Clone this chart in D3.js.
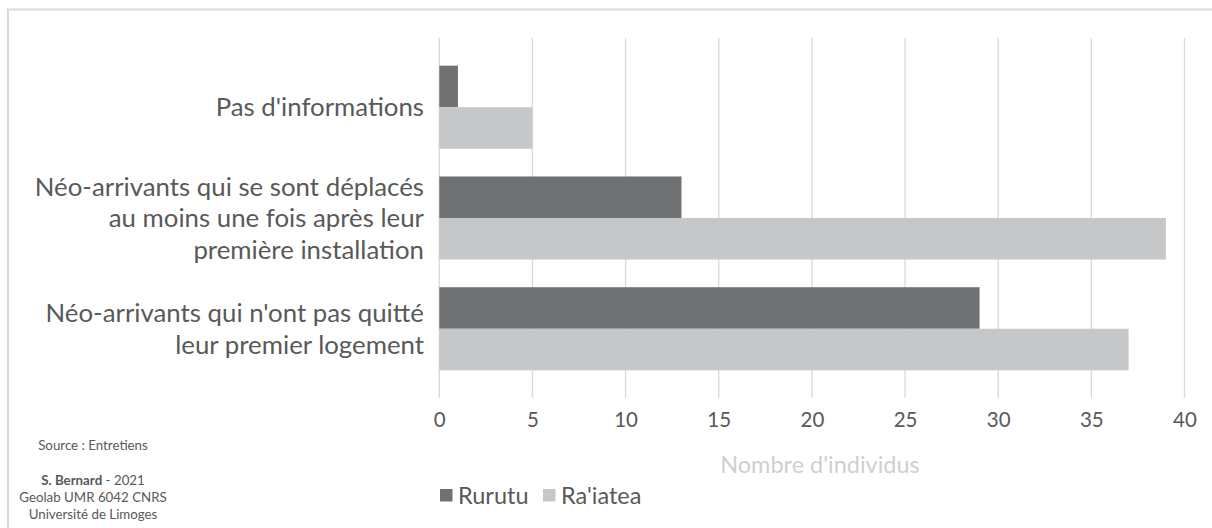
<!DOCTYPE html>
<html>
<head>
<meta charset="utf-8">
<script src="https://cdn.jsdelivr.net/npm/d3@7"></script>
<style>
  html, body { margin: 0; padding: 0; background: #fff; }
  svg { display: block; font-family: Lato, "Open Sans", sans-serif; }
</style>
</head>
<body>
<svg id="chart" width="1212" height="528"></svg>
<script>
// ---- data ----
const categories = [
  "Pas d'informations",
  "Néo-arrivants qui se sont déplacés\nau moins une fois après leur\npremière installation",
  "Néo-arrivants qui n'ont pas quitté\nleur premier logement"
];
const seriesNames = ["Rurutu", "Ra'iatea"];
const rurutuValues = [1, 13, 29];
const raiateaValues = [5, 39, 37];
const xTicks = [0, 5, 10, 15, 20, 25, 30, 35, 40];
const axisTitle = "Nombre d'individus";
const sourceLines = ["Source : Entretiens"];
const creditLines = ["Geolab UMR 6042 CNRS", "Université de Limoges"];

const seriesColors = ["#707173", "#c6c7c9"];
const textColor = "#595959";
const gridColor = "#d9d9d9";

const svg = d3.select("#chart");

// outer frame (only top/left visible)
svg.append("rect")
  .attr("x", 8).attr("y", 9.5)
  .attr("width", 1300).attr("height", 600)
  .attr("fill", "none").attr("stroke", gridColor).attr("stroke-width", 2);

const plot = { left: 439.3, right: 1184.5, top: 38, bottom: 398 };

const x = d3.scaleLinear().domain([0, 40]).range([plot.left, plot.right]);
const y = d3.scaleBand().domain(categories).range([plot.top, plot.bottom]).padding(0.25);
const ySub = d3.scaleBand().domain(seriesNames).range([0, y.bandwidth()]);

// gridlines
svg.append("g").selectAll("line").data(xTicks).join("line")
  .attr("x1", d => x(d)).attr("x2", d => x(d))
  .attr("y1", plot.top).attr("y2", plot.bottom)
  .attr("stroke", gridColor).attr("stroke-width", 1.3);

// bars
const table = categories.map((c, i) => ({ cat: c, vals: [rurutuValues[i], raiateaValues[i]] }));
const groups = svg.append("g").selectAll("g").data(table).join("g")
  .attr("transform", d => `translate(0,${y(d.cat)})`);
groups.selectAll("rect").data(d => d.vals.map((v, j) => ({ v, s: seriesNames[j], j })))
  .join("rect")
  .attr("x", x(0))
  .attr("y", d => ySub(d.s))
  .attr("width", d => x(d.v) - x(0))
  .attr("height", ySub.bandwidth())
  .attr("fill", d => seriesColors[d.j]);

// x axis
const xAxis = svg.append("g")
  .attr("transform", `translate(0,${plot.bottom})`)
  .call(d3.axisBottom(x).tickValues(xTicks).tickSize(0).tickFormat(d3.format("d")));
xAxis.select(".domain").remove();
xAxis.selectAll("text")
  .attr("y", 22).attr("dy", "0.35em")
  .attr("fill", textColor)
  .style("font-size", "20.5px").style("font-family", "Lato, sans-serif");

// category labels
const lineH = 31.5;
const labels = svg.append("g").selectAll("text").data(categories).join("text")
  .attr("text-anchor", "end")
  .attr("fill", textColor)
  .style("font-size", "25.8px");
labels.each(function(d) {
  const lines = d.split("\n");
  const cy = y(d) + y.bandwidth() / 2;
  const t = d3.select(this);
  lines.forEach((ln, k) => {
    t.append("tspan")
      .attr("x", 424)
      .attr("y", cy + (k - (lines.length - 1) / 2) * lineH)
      .attr("dy", "0.35em")
      .text(ln);
  });
});

// axis title
svg.append("text")
  .attr("x", 820).attr("y", 465).attr("dy", "0.35em")
  .attr("text-anchor", "middle")
  .attr("fill", "#cfcfcf")
  .style("font-size", "23.5px")
  .text(axisTitle);

// legend
const legend = svg.append("g").attr("transform", "translate(440,495.5)");
const legX = [0, 103];
seriesNames.forEach((s, j) => {
  const g = legend.append("g").attr("transform", `translate(${legX[j]},0)`);
  g.append("rect").attr("x", 0).attr("y", -6.5).attr("width", 12.5).attr("height", 12.5)
    .attr("fill", seriesColors[j]);
  g.append("text").attr("x", 18).attr("y", 0).attr("dy", "0.35em")
    .attr("fill", textColor).style("font-size", "23.5px").text(s);
});

// source / credits
const cx = 93;
svg.append("text").attr("x", cx).attr("y", 445).attr("dy", "0.35em")
  .attr("text-anchor", "middle").attr("fill", textColor).style("font-size", "13.3px")
  .text(sourceLines[0]);
const cred = svg.append("text").attr("x", cx).attr("y", 480).attr("dy", "0.35em")
  .attr("text-anchor", "middle").attr("fill", textColor).style("font-size", "13.3px");
cred.append("tspan").style("font-weight", "bold").text("S. Bernard");
cred.append("tspan").text(" - 2021");
creditLines.forEach((ln, k) => {
  svg.append("text").attr("x", cx).attr("y", 497 + k * 17).attr("dy", "0.35em")
    .attr("text-anchor", "middle").attr("fill", textColor).style("font-size", "13.3px")
    .text(ln);
});
</script>
</body>
</html>
